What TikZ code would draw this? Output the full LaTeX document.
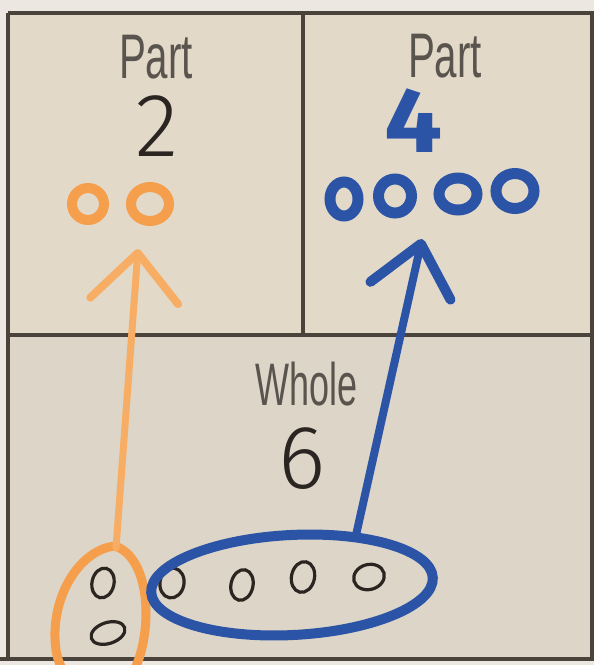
\documentclass[tikz,border=0pt]{standalone}
\usepackage{fontspec}
\setmainfont{Liberation Sans}
\newfontfamily\labelfont{Liberation Sans}
\newfontfamily\thinfont{Fira Sans Light}
\newfontfamily\heavyfont{Fira Sans}
\usetikzlibrary{shapes.geometric,arrows.meta}

\definecolor{paperOut}{HTML}{ECE7E0}
\definecolor{paperTop}{HTML}{E3D9C9}
\definecolor{paperLow}{HTML}{DDD5C8}
\definecolor{frameInk}{HTML}{4A433B}
\definecolor{printInk}{HTML}{5A544E}
\definecolor{penInk}{HTML}{2B2522}
\definecolor{orangeInk}{HTML}{F59E4B}
\definecolor{orangeLine}{HTML}{F7AE64}
\definecolor{blueInk}{HTML}{2C54A6}

\begin{document}
\begin{tikzpicture}[x=1pt,y=-1pt,
  frame/.style={draw=frameInk,line width=4pt},
  printed/.style={font=\labelfont\fontsize{63}{63}\selectfont,text=printInk,inner sep=0pt,xscale=0.64},
  wholetext/.style={font=\labelfont\fontsize{60}{60}\selectfont,text=printInk,inner sep=0pt,xscale=0.6},
  digit/.style={font=\thinfont\fontsize{90}{90}\selectfont,text=penInk,inner sep=0pt},
  bigdigit/.style={font=\heavyfont\bfseries\fontsize{92}{92}\selectfont,text=blueInk,inner sep=0pt,xscale=1.12},
  ring/.style={ellipse,draw,inner sep=0pt,line width=10pt},
  counter/.style={ellipse,draw=penInk,inner sep=0pt,line width=3.2pt},
  orangeArrow/.style={draw=orangeLine,line width=7pt,line cap=round,
    -{Straight Barb[length=48pt,width=88pt,line width=8pt,round]}},
  blueArrow/.style={draw=blueInk,line width=8pt,line cap=round,
    -{Straight Barb[length=48pt,width=82pt,line width=10pt,round]}}
]
\useasboundingbox (0,0) rectangle (594,665);
\begin{scope}
\clip (0,0) rectangle (594,665);

% paper and mat
\fill[paperOut] (0,0) rectangle (594,665);
\fill[paperTop] (8,13) rectangle (592,335);
\fill[paperLow] (8,335) rectangle (592,659);
\draw[frame] (8,13) -- (592,13) -- (592,659);
\draw[frame] (8,13) -- (8,659);
\draw[frame] (0,659) -- (594,659);
\draw[frame] (303,13) -- (303,335);
\draw[frame] (8,335) -- (592,335);

% printed labels
\node[printed] (partL) at (156,57) {Part};
\node[printed] (partR) at (445,56) {Part};
\node[wholetext] (whole) at (307,384) {Whole};

% written numbers
\node[digit] (numL) at (157,126) {2};
\node[bigdigit] (numR) at (414,121) {4};
\node[digit] (numW) at (302,459) {6};

% counters in the part boxes
\node[ring,draw=orangeInk,minimum width=32pt,minimum height=32pt] (oA) at (88,204) {};
\node[ring,draw=orangeInk,minimum width=38pt,minimum height=34pt] (oB) at (150,204) {};
\node[ring,draw=blueInk,line width=11pt,minimum width=28pt,minimum height=34pt] (bA) at (344,199) {};
\node[ring,draw=blueInk,line width=11pt,minimum width=33pt,minimum height=34pt] (bB) at (395,196) {};
\node[ring,draw=blueInk,line width=11pt,minimum width=38pt,minimum height=32pt] (bC) at (458,194) {};
\node[ring,draw=blueInk,line width=11pt,minimum width=38pt,minimum height=35pt] (bD) at (515,191) {};

% counters of the whole
\node[counter,minimum width=22pt,minimum height=30pt,rotate=-12] (c1) at (103,583) {};
\node[counter,minimum width=35pt,minimum height=21pt,rotate=18] (c2) at (108,633) {};
\node[counter,minimum width=24pt,minimum height=30pt,rotate=-10] (c3) at (172,583) {};
\node[counter,minimum width=22pt,minimum height=31pt,rotate=-12] (c4) at (242,585) {};
\node[counter,minimum width=23pt,minimum height=31pt,rotate=-12] (c5) at (303,577) {};
\node[counter,minimum width=31pt,minimum height=25pt,rotate=15] (c6) at (369,577) {};

% grouping loops
\draw[draw=orangeInk,line width=9pt,line join=round]
  (115,546) .. controls (156,560) and (152,650) .. (128,680)
  .. controls (100,700) and (62,690) .. (56,650)
  .. controls (49,600) and (78,550) .. (115,546) -- cycle;
\coordinate (loopTop) at (116,548);
\node[ellipse,draw=blueInk,line width=10pt,inner sep=0pt,
      minimum width=282pt,minimum height=100pt,rotate=3] (grpFour) at (292,585) {};

% arrows from the whole to the parts
\coordinate (orangeTip) at (138,249);
\coordinate (blueTip) at (422,239);
\draw[orangeArrow] (loopTop) -- (orangeTip);
\draw[blueArrow] (grpFour.36) -- (blueTip);
\end{scope}
\end{tikzpicture}
\end{document}
